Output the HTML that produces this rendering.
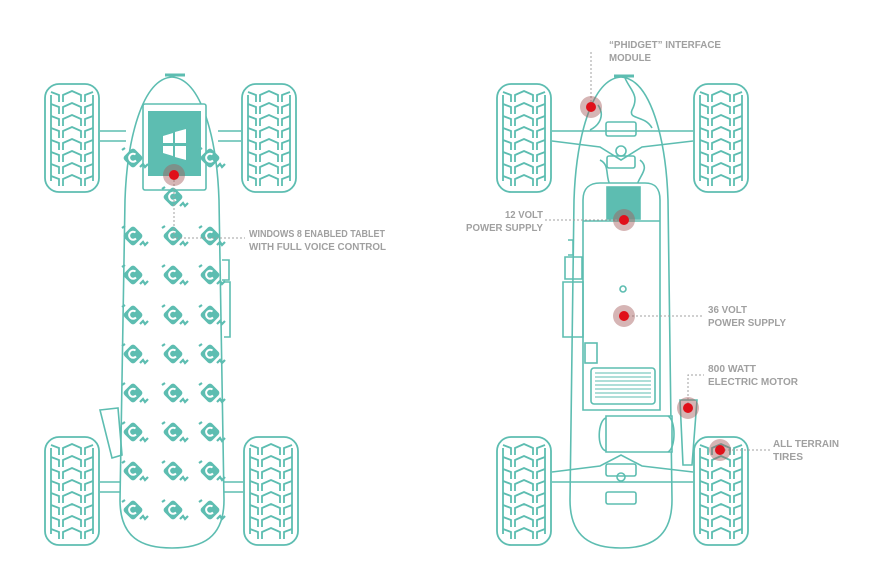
<!DOCTYPE html>
<html><head><meta charset="utf-8"><style>
html,body{margin:0;padding:0;background:#fff;}
svg{display:block}
text{font-family:"Liberation Sans",sans-serif;font-size:10px;font-weight:bold;fill:#a0a0a0}
</style></head><body>
<svg width="880" height="588" viewBox="0 0 880 588" xmlns="http://www.w3.org/2000/svg">
<defs>
<g id="tire" fill="none" stroke="#5dbdb1" stroke-width="1.8">
 <rect x="1" y="1" width="54" height="108" rx="14"/>
 <line x1="7" y1="12" x2="7" y2="98"/>
 <line x1="49" y1="12" x2="49" y2="98"/>
 <path id="row" d="M7,9 L15,12 V19 M49,9 L41,12 V19 M19,19 V12 L28,8 L37,12 V19"/>
 <use href="#row" y="12"/><use href="#row" y="24"/><use href="#row" y="36"/>
 <use href="#row" y="48"/><use href="#row" y="60"/><use href="#row" y="72"/><use href="#row" y="84"/>
</g>
<g id="ico">
 <rect x="-7.5" y="-7.5" width="15" height="15" rx="3" fill="#5dbdb1" transform="rotate(45)"/>
 <path d="M2.5,-3.5 A4,4 0 1 0 3,2.5" fill="none" stroke="#fff" stroke-width="2"/>
 <path d="M7,9 l3,-3 l2,3 l3,-3 M-11,-8 l3,-2" fill="none" stroke="#5dbdb1" stroke-width="2.2"/>
</g>
<g id="dot">
 <circle r="11" fill="#a55a5a" opacity="0.45"/>
 <circle r="5" fill="#e0101a"/>
</g>
</defs>

<g stroke="#5dbdb1" stroke-width="1.6" fill="none">
<use href="#tire" x="44" y="83"/>
<use href="#tire" x="241" y="83"/>
<use href="#tire" x="44" y="436"/>
<use href="#tire" x="243" y="436"/>
<path d="M100,131 H126 M100,141 H126 M218,131 H241 M218,141 H241"/>
<path d="M100,482 H122 M100,492 H122 M222,482 H243 M222,492 H243"/>
<path d="M172,77 C142,79 127,140 125,200 L120,500 C120,538 142,548 172,548 C202,548 224,538 224,500 L219,200 C217,140 202,79 172,77 Z" fill="#fff"/>
<path d="M165,75 h20" stroke-width="3"/>
<path d="M222,260 h7 v20 h-7 M224,282 h6 v55 h-6" />
<path d="M100,410 L118,408 L122,455 L112,458 Z"/>
<rect x="143" y="104" width="63" height="86" rx="2" fill="#fff"/>
<rect x="148" y="111" width="53" height="65" fill="#5dbdb1" stroke="none"/>
<path d="M163,136 l10,-3 v10 h-10z M175,132 l11,-3 v14 h-11z M163,146 h10 v10 l-10,-3z M175,146 h11 v14 l-11,-3z" fill="#fff" stroke="none"/>
</g>
<g>
<use href="#ico" x="133" y="158"/><use href="#ico" x="210" y="158"/>
<use href="#ico" x="173" y="197"/><use href="#ico" x="133" y="236"/><use href="#ico" x="173" y="236"/><use href="#ico" x="210" y="236"/>
<use href="#ico" x="133" y="275"/><use href="#ico" x="173" y="275"/><use href="#ico" x="210" y="275"/>
<use href="#ico" x="133" y="315"/><use href="#ico" x="173" y="315"/><use href="#ico" x="210" y="315"/>
<use href="#ico" x="133" y="354"/><use href="#ico" x="173" y="354"/><use href="#ico" x="210" y="354"/>
<use href="#ico" x="133" y="393"/><use href="#ico" x="173" y="393"/><use href="#ico" x="210" y="393"/>
<use href="#ico" x="133" y="432"/><use href="#ico" x="173" y="432"/><use href="#ico" x="210" y="432"/>
<use href="#ico" x="133" y="471"/><use href="#ico" x="173" y="471"/><use href="#ico" x="210" y="471"/>
<use href="#ico" x="133" y="510"/><use href="#ico" x="173" y="510"/><use href="#ico" x="210" y="510"/>
</g>

<g stroke="#5dbdb1" stroke-width="1.6" fill="none">
<use href="#tire" x="496" y="83"/>
<use href="#tire" x="693" y="83"/>
<use href="#tire" x="496" y="436"/>
<use href="#tire" x="693" y="436"/>
<path d="M621,77 C591,79 576,140 574,200 L570,500 C570,538 592,548 621,548 C650,548 672,538 672,500 L668,200 C666,140 651,79 621,77 Z" fill="#fff"/>
<path d="M614,76 h20" stroke-width="3"/>
<path d="M552,131 H693 M552,141 L600,147 L621,160 L642,147 L693,141"/>
<rect x="606" y="122" width="30" height="14" rx="2"/>
<circle cx="621" cy="151" r="5"/>
<rect x="607" y="156" width="28" height="12" rx="2"/>
<path d="M552,482 H693 M552,472 L600,466 L621,455 L642,466 L693,472"/>
<rect x="606" y="464" width="30" height="12" rx="2"/>
<circle cx="621" cy="477" r="4"/>
<rect x="606" y="492" width="30" height="12" rx="2"/>
<path d="M625,78 C630,90 640,95 632,110 C628,120 645,115 652,128 M598,105 C605,115 600,125 590,130 M600,160 C610,165 605,175 610,185 M640,160 C650,168 640,175 637,185"/>
<path d="M583,410 V200 C583,188 590,183 600,183 H645 C655,183 660,188 660,200 V410 Z" fill="#fff"/>
<rect x="607" y="187" width="33" height="32" fill="#5dbdb1"/>
<path d="M583,221 H660"/>
<path d="M568,240 h5 v15 h-5 M565,257 h17 v22 h-17z M563,282 h20 v55 h-20z"/>
<rect x="585" y="343" width="12" height="20"/>
<circle cx="623" cy="289" r="3"/>
<rect x="591" y="368" width="64" height="36" rx="3"/>
<path d="M595,373 h56 M595,377 h56 M595,381 h56 M595,385 h56 M595,389 h56 M595,393 h56 M595,397 h56" stroke-width="1"/>
<path d="M606,416 H672 V452 H606 Z" fill="#fff"/>
<path d="M606,418 C598,420 596,448 606,451"/>
<path d="M668,416 C676,420 676,448 668,452"/>
<path d="M680,400 H697 L692,465 H683 Z" fill="#fff"/>
</g>

<g stroke="#a0a0a0" stroke-width="1" stroke-dasharray="2,2" fill="none">
<path d="M174,176 V238 H245"/>
<path d="M591,52 V107"/>
<path d="M545,220 H624"/>
<path d="M624,316 H702"/>
<path d="M688,408 V375 H704"/>
<path d="M720,450 H770"/>
</g>
<use href="#dot" x="174" y="175"/>
<use href="#dot" x="591" y="107"/>
<use href="#dot" x="624" y="220"/>
<use href="#dot" x="624" y="316"/>
<use href="#dot" x="688" y="408"/>
<use href="#dot" x="720" y="450"/>

<text x="249" y="237" textLength="136" lengthAdjust="spacingAndGlyphs">WINDOWS 8 ENABLED TABLET</text>
<text x="249" y="250" textLength="137" lengthAdjust="spacingAndGlyphs">WITH FULL VOICE CONTROL</text>
<text x="609" y="48" textLength="112" lengthAdjust="spacingAndGlyphs">“PHIDGET” INTERFACE</text>
<text x="609" y="61" textLength="42" lengthAdjust="spacingAndGlyphs">MODULE</text>
<text x="505" y="218" textLength="38" lengthAdjust="spacingAndGlyphs">12 VOLT</text>
<text x="466" y="231" textLength="77" lengthAdjust="spacingAndGlyphs">POWER SUPPLY</text>
<text x="708" y="313" textLength="39" lengthAdjust="spacingAndGlyphs">36 VOLT</text>
<text x="708" y="326" textLength="78" lengthAdjust="spacingAndGlyphs">POWER SUPPLY</text>
<text x="708" y="372" textLength="48" lengthAdjust="spacingAndGlyphs">800 WATT</text>
<text x="708" y="385" textLength="90" lengthAdjust="spacingAndGlyphs">ELECTRIC  MOTOR</text>
<text x="773" y="447" textLength="66" lengthAdjust="spacingAndGlyphs">ALL TERRAIN</text>
<text x="773" y="460" textLength="30" lengthAdjust="spacingAndGlyphs">TIRES</text>
</svg>
</body></html>
